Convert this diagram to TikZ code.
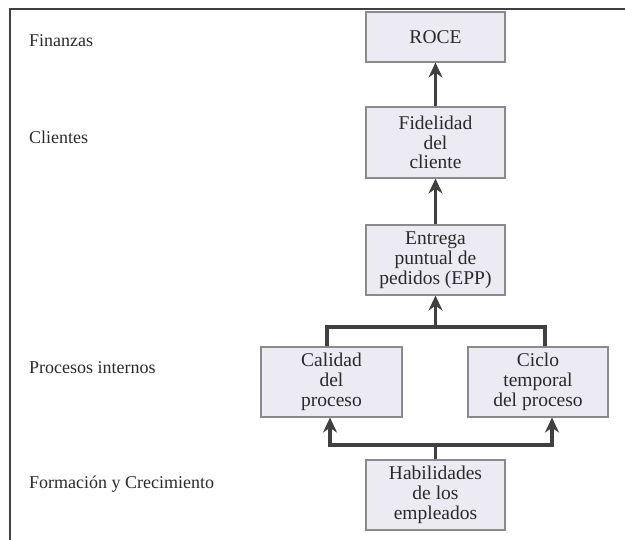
\documentclass[tikz,border=0pt]{standalone}
\usepackage{fontspec}
\setmainfont{Liberation Serif}
\usetikzlibrary{arrows.meta, calc, positioning}

\definecolor{boxfill}{HTML}{ECEAF2}
\definecolor{boxline}{HTML}{8A8A8A}
\definecolor{linegray}{HTML}{404040}
\definecolor{textgray}{HTML}{2A2A2A}

\begin{document}
\begin{tikzpicture}[x=1pt, y=-1pt,
    box/.style={draw=boxline, line width=1.1pt, fill=boxfill, minimum width=139pt,
                minimum height=70pt, align=center, inner sep=1pt, text=textgray,
                font=\fontsize{19.5}{19.8}\selectfont},
    flow/.style={draw=linegray, line width=3.5pt, -{Stealth[length=15pt,width=14pt]}},
    link/.style={draw=linegray, line width=3.5pt},
    level/.style={anchor=west, inner sep=0pt, text=textgray,
                  font=\fontsize{18}{20}\selectfont}]
      \useasboundingbox (0,0) rectangle (625,540);

      % Frame (cut off right and bottom)
      \draw[linegray, line width=2.5pt] (625,9) -| (10,540);

      % Perspectives
      \node[level] (finanzas) at (29,41)  {Finanzas};
      \node[level] (clientes) at (29,137) {Clientes};
      \node[level] (procesos) at (29,368) {Procesos internos};
      \node[level] (formacion) at (29,484) {Formación y Crecimiento};

      % Objectives
      \node[box, minimum height=50pt] (roce) at (435.5,37)  {ROCE};
      \node[box, minimum height=71pt] (fidelidad) at (435.5,142.5) {Fidelidad\\del\\cliente};
      \node[box] (entrega) at (435.5,260) {Entrega\\puntual de\\pedidos (EPP)};
      \node[box, minimum width=141pt] (calidad) at (331.5,382) {Calidad\\del\\proceso};
      \node[box, minimum width=140pt] (ciclo) at (538,382) {Ciclo\\temporal\\del proceso};
      \node[box] (habilidades) at (435.5,495) {Habilidades\\de los\\empleados};

      % Links
      \draw[flow] (fidelidad) -- (roce);
      \draw[flow] (entrega) -- (fidelidad);

      \coordinate (topbus) at (entrega.south |- 0,327);
      \draw[link] ($(calidad.north)+(-4.5,0)$) |- (topbus) -| ($(ciclo.north)+(7,0)$);
      \draw[flow] (topbus) -- (entrega.south);

      \coordinate (lowbus) at (habilidades.north |- 0,445);
      \draw[link] (habilidades.north) -- (lowbus);
      \draw[flow] (lowbus) -| ($(calidad.south)+(-1.5,0)$);
      \draw[flow] (lowbus) -| ($(ciclo.south)+(14,0)$);
\end{tikzpicture}
\end{document}
